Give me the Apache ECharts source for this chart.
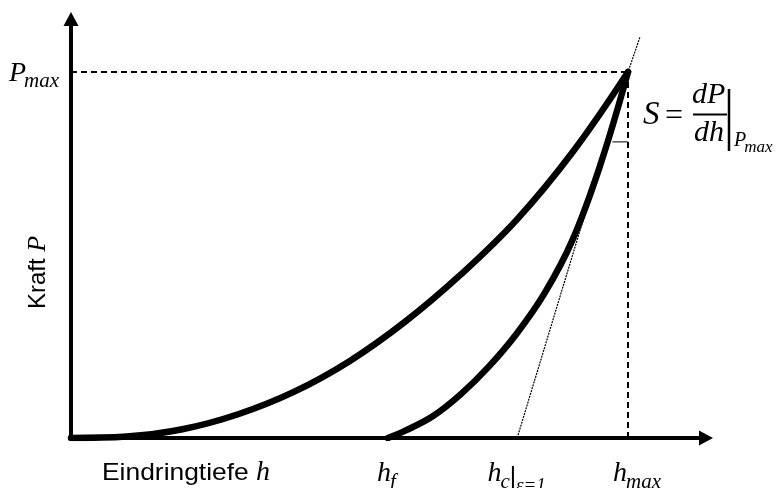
<!DOCTYPE html>
<html><head><meta charset="utf-8">
<script src="https://cdn.jsdelivr.net/npm/echarts@6/dist/echarts.min.js"></script>
<style>html,body{margin:0;padding:0;background:#fff}#c{width:782px;height:488px}</style>
</head><body><div id="c"></div>
<script>
// Values normalised: h / h_max and P / P_max
const loadingH = [0, 0.1, 0.2, 0.3, 0.4, 0.5, 0.6, 0.7, 0.8, 0.9, 1];
const loadingP = [0, 0.004, 0.024, 0.065, 0.126, 0.210, 0.318, 0.447, 0.596, 0.780, 1];
const unloadH = [0.569, 0.6, 0.65, 0.7, 0.75, 0.8, 0.85, 0.9, 0.95, 1];
const unloadP = [0, 0.020, 0.060, 0.120, 0.195, 0.285, 0.395, 0.540, 0.745, 1];
const tangentH = [0.801, 1, 1.0215];
const tangentP = [0, 1, 1.0956];
const markH = [0.972, 1];
const markP = [0.809, 0.809];
const hf = 0.569, hc = 0.801, hmax = 1, Pmax = 1;
const xAxisMax = 1.14, yAxisMax = 1.1448;
const xTickLabels = [
  { value: hf, base: 'h', sub: 'f', extra: '' },
  { value: hc, base: 'h', sub: 'c', extra: 'ε=1' },
  { value: hmax, base: 'h', sub: 'max', extra: '' }
];
const yTickLabels = [{ value: Pmax, base: 'P', sub: 'max' }];
const xName = 'Eindringtiefe ', xNameVar = 'h';
const yName = 'Kraft ', yNameVar = 'P';

const zip = (a, b) => a.map((v, i) => [v, b[i]]);
const chart = echarts.init(document.getElementById('c'), null, { renderer: 'canvas' });
const axisCommon = {
  type: 'value', min: 0,
  axisTick: { show: false }, axisLabel: { show: false }, splitLine: { show: false },
  axisLine: { show: true, onZero: false, symbol: ['none', 'triangle'], symbolSize: [15, 14],
    lineStyle: { color: '#000', width: 4 } }
};
const black = '#000';
chart.setOption({
  animation: false,
  backgroundColor: '#fff',
  grid: { left: 71, right: 76, top: 19, bottom: 50, containLabel: false, outerBoundsMode: 'none' },
  xAxis: Object.assign({}, axisCommon, { max: xAxisMax }),
  yAxis: Object.assign({}, axisCommon, { max: yAxisMax }),
  series: [
    { type: 'line', data: [[0, Pmax], [hmax, Pmax]], showSymbol: false, z: 1,
      lineStyle: { color: black, width: 2, type: [6, 4] } },
    { type: 'line', data: [[hmax, Pmax], [hmax, 0]], showSymbol: false, z: 1,
      lineStyle: { color: black, width: 2, type: [6, 4] } },
    { type: 'line', data: zip(tangentH, tangentP), showSymbol: false, z: 2,
      lineStyle: { color: black, width: 1.2, type: [2, 1] } },
    { type: 'line', data: zip(markH, markP), showSymbol: false, z: 2,
      lineStyle: { color: black, width: 1 } },
    { type: 'line', data: zip(loadingH, loadingP), smooth: 0.4, showSymbol: false, z: 3,
      lineStyle: { color: black, width: 6.5, cap: 'round', join: 'round' } },
    { type: 'line', data: zip(unloadH, unloadP), smooth: 0.4, showSymbol: false, z: 3,
      lineStyle: { color: black, width: 6.5, cap: 'round', join: 'round' } }
  ]
});

const mctx = document.createElement('canvas').getContext('2d');
function tw(t, font) { mctx.font = font; return mctx.measureText(t).width; }
function txt(x, baseY, t, size, font, sx) {
  sx = sx || 1;
  return { type: 'text', x: x, y: baseY - 0.34 * size, scaleX: sx, z: 100,
    style: { text: t, font: font, fill: '#000', align: 'left', verticalAlign: 'middle',
      textAlign: 'left', textVerticalAlign: 'middle' } };
}
const mf = s => 'italic ' + s + 'px "Liberation Serif"';
const SANS = s => s + 'px "Liberation Sans"';
const els = [];
const B = 28, SB = 21;

// x tick labels
const axisBase = chart.convertToPixel({ gridIndex: 0 }, [0, 0])[1];
xTickLabels.forEach(l => {
  const px = chart.convertToPixel({ gridIndex: 0 }, [l.value, 0])[0];
  const wb = tw(l.base, mf(B)), ws = tw(l.sub, mf(SB));
  let total = wb + ws;
  if (l.extra) total += 6 + tw(l.extra, mf(19));
  let x0 = l.extra ? px - total / 2 : px - wb / 2 - 4;
  if (l.sub === 'max') x0 = px - 15;
  const baseY = axisBase + 45;
  els.push(txt(x0, baseY, l.base, B, mf(B)));
  els.push(txt(x0 + wb - 1, baseY + 7, l.sub, SB, mf(SB)));
  if (l.extra) {
    const bx = x0 + wb + ws + 2;
    els.push({ type: 'line', z: 100, shape: { x1: bx, y1: axisBase + 28, x2: bx, y2: axisBase + 55 },
      style: { stroke: '#000', lineWidth: 2 } });
    els.push(txt(bx + 3, baseY + 9, l.extra, 19, mf(19)));
  }
});
// y tick label
yTickLabels.forEach(l => {
  const py = chart.convertToPixel({ gridIndex: 0 }, [0, l.value])[1];
  const wb = tw(l.base, mf(B));
  els.push(txt(9, py + 11, l.base, B, mf(B)));
  els.push(txt(9 + wb - 2, py + 17, l.sub, SB, mf(SB)));
});
// axis names
els.push(txt(102, axisBase + 44, xName, 24, SANS(24), 1.1));
els.push(txt(102 + tw(xName, SANS(24)) * 1.1, axisBase + 44, xNameVar, B, mf(B)));
els.push({ type: 'group', x: 47, y: 309, rotation: Math.PI / 2, children: [
  txt(0, 0, yName, 24, SANS(24)),
  txt(tw(yName, SANS(24)), 0, yNameVar, 26, mf(26))
] });
// stiffness formula
els.push(txt(643, 127, 'S', 33, mf(33)));
els.push(txt(665, 127, '=', 32, '32px "Liberation Serif"'));
els.push(txt(692, 105, 'dP', 30, mf(30)));
els.push({ type: 'line', z: 100, shape: { x1: 693, y1: 114.5, x2: 727, y2: 114.5 }, style: { stroke: '#000', lineWidth: 2 } });
els.push(txt(694, 143, 'dh', 30, mf(30)));
els.push({ type: 'line', z: 100, shape: { x1: 729, y1: 89, x2: 729, y2: 151 }, style: { stroke: '#000', lineWidth: 2.5 } });
els.push(txt(734, 148, 'P', 20, mf(20)));
els.push(txt(734 + tw('P', mf(20)) - 2, 153, 'max', 17, mf(17)));

chart.setOption({ graphic: { elements: els } });
</script>
</body></html>
